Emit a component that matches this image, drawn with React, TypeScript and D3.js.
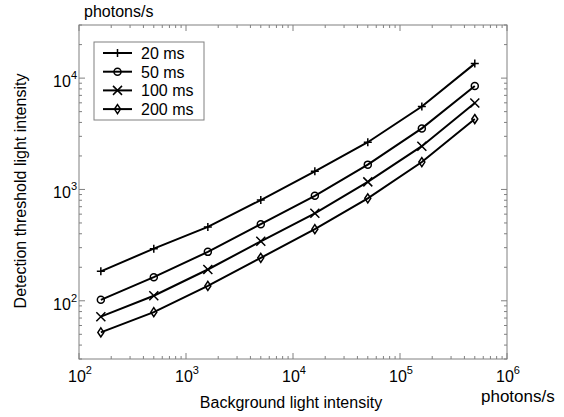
import React, { useEffect, useRef } from "react";
import * as d3 from "d3";

// background intensity (photons/s)
const background = [160, 500, 1600, 5000, 16000, 50000, 160000, 500000];
const durations = ["20 ms", "50 ms", "100 ms", "200 ms"];
const ms20 = [184, 294, 461, 803, 1455, 2655, 5560, 13500];
const ms50 = [102, 163, 275, 488, 877, 1671, 3536, 8490];
const ms100 = [72, 111, 191, 342, 611, 1170, 2446, 5985];
const ms200 = [52, 79, 136, 243, 440, 832, 1762, 4290];
const xTicks = [1e2, 1e3, 1e4, 1e5, 1e6];
const yTicks = [1e2, 1e3, 1e4];

export default function App() {
  const svgRef = useRef(null);

  useEffect(() => {
    const width = 564;
    const height = 417;
    const svg = d3.select(svgRef.current)
      .attr("width", width)
      .attr("height", height);
    svg.selectAll("*").remove();

    const margin = { left: 79, top: 25, right: 57, bottom: 58 };
    const x = d3.scaleLog().domain([1e2, 1e6]).range([margin.left, width - margin.right]);
    const y = d3.scaleLog().domain([30, 3e4]).range([height - margin.bottom, margin.top]);
    const font = "Liberation Sans, Arial, sans-serif";
    const gray = "#808080";

    const x0 = x.range()[0], x1 = x.range()[1];
    const y0 = y.range()[0], y1 = y.range()[1];

    svg.append("rect")
      .attr("x", x0).attr("y", y1)
      .attr("width", x1 - x0).attr("height", y0 - y1)
      .attr("fill", "none").attr("stroke", gray).attr("stroke-width", 1);

    // minor + major ticks (inward, all four sides)
    const xAll = x.ticks().filter(t => t >= 100 && t <= 1e6);
    xAll.forEach(t => {
      const major = xTicks.includes(t);
      const len = major ? 6 : 3;
      svg.append("line").attr("x1", x(t)).attr("x2", x(t)).attr("y1", y0).attr("y2", y0 - len).attr("stroke", gray);
      svg.append("line").attr("x1", x(t)).attr("x2", x(t)).attr("y1", y1).attr("y2", y1 + len).attr("stroke", gray);
    });
    const yAll = y.ticks().filter(t => t >= 30 && t <= 3e4);
    yAll.forEach(t => {
      const major = yTicks.includes(t);
      const len = major ? 6 : 3;
      svg.append("line").attr("x1", x0).attr("x2", x0 + len).attr("y1", y(t)).attr("y2", y(t)).attr("stroke", gray);
      svg.append("line").attr("x1", x1).attr("x2", x1 - len).attr("y1", y(t)).attr("y2", y(t)).attr("stroke", gray);
    });

    const powLabel = (g, v, anchor) => {
      const txt = g.append("text")
        .attr("font-family", font).attr("font-size", 16).attr("text-anchor", anchor).attr("fill", "#000");
      txt.append("tspan").text("10");
      txt.append("tspan").attr("dy", -8).attr("font-size", 11).text(String(Math.round(Math.log10(v))));
      return txt;
    };

    xTicks.forEach(t => {
      const g = svg.append("g").attr("transform", `translate(${x(t) + 1},${y0 + 23})`);
      powLabel(g, t, "middle");
    });
    yTicks.forEach(t => {
      const g = svg.append("g").attr("transform", `translate(${x0 - 2},${y(t) + 9})`);
      powLabel(g, t, "end");
    });

    svg.append("text").attr("x", 291).attr("y", 408).attr("text-anchor", "middle")
      .attr("font-family", font).attr("font-size", 16).text("Background light intensity");
    svg.append("text").attr("x", 481).attr("y", 402)
      .attr("font-family", font).attr("font-size", 17).text("photons/s");
    svg.append("text").attr("x", 84).attr("y", 17)
      .attr("font-family", font).attr("font-size", 16).text("photons/s");
    svg.append("text")
      .attr("transform", `translate(26,191) rotate(-90)`)
      .attr("text-anchor", "middle")
      .attr("font-family", font).attr("font-size", 16).text("Detection threshold light intensity");

    const series = [ms20, ms50, ms100, ms200];
    const symbols = ["plus", "circle", "cross", "diamond"];
    const line = d3.line().x(d => x(d[0])).y(d => y(d[1]));

    const drawMarker = (g, kind, cx, cy) => {
      if (kind === "plus") {
        g.append("path").attr("d", `M${cx - 4},${cy}H${cx + 4}M${cx},${cy - 4}V${cy + 4}`)
          .attr("stroke", "#000").attr("stroke-width", 1.5);
      } else if (kind === "circle") {
        g.append("circle").attr("cx", cx).attr("cy", cy).attr("r", 3.5)
          .attr("fill", "none").attr("stroke", "#000").attr("stroke-width", 1.5);
      } else if (kind === "cross") {
        g.append("path").attr("d", `M${cx - 4.5},${cy - 4.5}L${cx + 4.5},${cy + 4.5}M${cx - 4.5},${cy + 4.5}L${cx + 4.5},${cy - 4.5}`)
          .attr("stroke", "#000").attr("stroke-width", 1.5);
      } else {
        g.append("path").attr("d", `M${cx},${cy - 4.5}L${cx + 3},${cy}L${cx},${cy + 4.5}L${cx - 3},${cy}Z`)
          .attr("fill", "none").attr("stroke", "#000").attr("stroke-width", 1.5);
      }
    };

    series.forEach((vals, i) => {
      const pts = background.map((b, j) => [b, vals[j]]);
      svg.append("path").datum(pts).attr("d", line)
        .attr("fill", "none").attr("stroke", "#000").attr("stroke-width", 2);
      const g = svg.append("g");
      pts.forEach(p => drawMarker(g, symbols[i], x(p[0]), y(p[1])));
    });

    // legend
    const lg = svg.append("g");
    lg.append("rect").attr("x", 94).attr("y", 42).attr("width", 110).attr("height", 78)
      .attr("fill", "#fff").attr("stroke", gray);
    durations.forEach((d, i) => {
      const ly = 53 + i * 18.7;
      lg.append("line").attr("x1", 103).attr("x2", 132).attr("y1", ly).attr("y2", ly)
        .attr("stroke", "#000").attr("stroke-width", 2);
      drawMarker(lg, symbols[i], 117.5, ly);
      lg.append("text").attr("x", 141).attr("y", ly + 6)
        .attr("font-family", font).attr("font-size", 16).text(d);
    });
  }, []);

  return (
    <svg ref={svgRef} style={{ position: "absolute", left: 0, top: 0, background: "#fff" }} />
  );
}
